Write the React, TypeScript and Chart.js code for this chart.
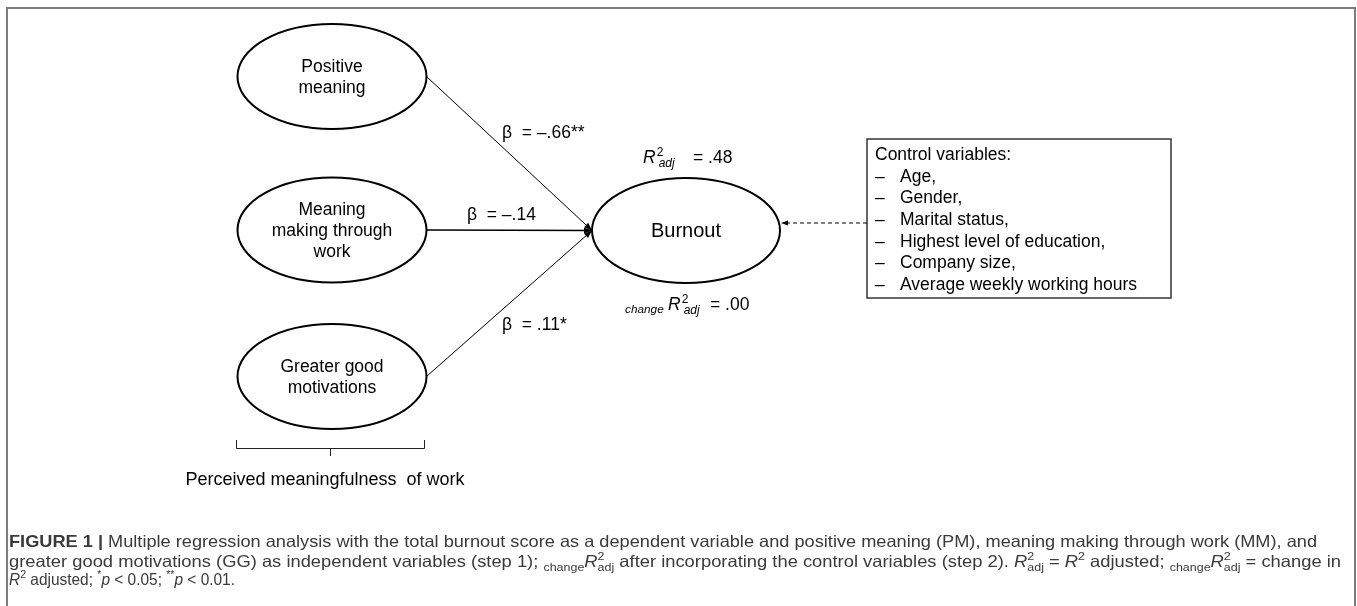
import { useEffect, useRef } from "react";
import { Chart, registerables } from "chart.js";

Chart.register(...registerables);

// ---------- data ----------
const predictorLabels: string[][] = [
  ["Positive", "meaning"],
  ["Meaning", "making through", "work"],
  ["Greater good", "motivations"],
];
const betaValues: number[] = [-0.66, -0.14, 0.11];
const betaStars: string[] = ["**", "", "*"];
const outcomeLabel = "Burnout";
const r2Adj = 0.48;
const changeR2Adj = 0.0;
const controlTitle = "Control variables:";
const controlItems: string[] = [
  "Age,",
  "Gender,",
  "Marital status,",
  "Highest level of education,",
  "Company size,",
  "Average weekly working hours",
];
const groupLabel = "Perceived meaningfulness  of work";

type Run = { t: string; b?: boolean; i?: boolean; s?: number; dy?: number; stack?: boolean };
const SUP = { s: 0.68, dy: -0.42 };
const SUB = { s: 0.68, dy: 0.22 };
const captionLines: Run[][] = [
  [
    { t: "FIGURE 1 |", b: true },
    { t: " Multiple regression analysis with the total burnout score as a dependent variable and positive meaning (PM), meaning making through work (MM), and" },
  ],
  [
    { t: "greater good motivations (GG) as independent variables (step 1); " },
    { t: "change", ...SUB },
    { t: "R", i: true },
    { t: "2", ...SUP, stack: true },
    { t: "adj", ...SUB },
    { t: " after incorporating the control variables (step 2). " },
    { t: "R", i: true },
    { t: "2", ...SUP, stack: true },
    { t: "adj", ...SUB },
    { t: " = " },
    { t: "R", i: true },
    { t: "2", ...SUP },
    { t: " adjusted; " },
    { t: "change", ...SUB },
    { t: "R", i: true },
    { t: "2", ...SUP, stack: true },
    { t: "adj", ...SUB },
    { t: " = change in" },
  ],
  [
    { t: "R", i: true },
    { t: "2", ...SUP },
    { t: " adjusted; " },
    { t: "*", ...SUP },
    { t: "p", i: true },
    { t: " < 0.05; " },
    { t: "**", ...SUP },
    { t: "p", i: true },
    { t: " < 0.01." },
  ],
];

// ---------- layout (in scale units) ----------
const W = 1357;
const H = 606;
const nodeX = [332, 332, 332];
const nodeY = [76.5, 230, 376.5];
const nodeRX = 94.5;
const nodeRY = 52.5;
const outX = 686;
const outY = 230.5;
const outRX = 94;
const outRY = 52.5;
const betaPos = [
  { x: 502, y: 133 },
  { x: 467, y: 215 },
  { x: 502, y: 325 },
];
const box = { x1: 867, y1: 139, x2: 1171, y2: 298 };

const FONT = '"Liberation Sans", Arial, Helvetica, sans-serif';
const fnt = (size: number, italic = false, bold = false) =>
  `${italic ? "italic" : "normal"} ${bold ? "bold" : "normal"} ${size}px ${FONT}`;

const fmt = (v: number) => (v < 0 ? "\u2013" : "") + Math.abs(v).toFixed(2).replace(/^0/, "");

function runsWidth(ctx: CanvasRenderingContext2D, runs: Run[], size: number) {
  let w = 0;
  let pending = 0;
  for (const r of runs) {
    ctx.font = fnt(size * (r.s ?? 1), !!r.i, !!r.b);
    const rw = ctx.measureText(r.t).width;
    if (r.stack) {
      pending = Math.max(pending, rw);
    } else {
      w += Math.max(pending, rw);
      pending = 0;
    }
  }
  return w + pending;
}

function drawRuns(ctx: CanvasRenderingContext2D, runs: Run[], x: number, base: number, size: number, sx: number) {
  ctx.save();
  ctx.translate(x, base);
  ctx.scale(sx, 1);
  ctx.textBaseline = "alphabetic";
  ctx.textAlign = "left";
  let cx = 0;
  let pending = 0;
  for (const r of runs) {
    ctx.font = fnt(size * (r.s ?? 1), !!r.i, !!r.b);
    const rw = ctx.measureText(r.t).width;
    ctx.fillText(r.t, cx, (r.dy ?? 0) * size);
    if (r.stack) {
      pending = Math.max(pending, rw);
    } else {
      cx += Math.max(pending, rw);
      pending = 0;
    }
  }
  ctx.restore();
}

function arrowHead(ctx: CanvasRenderingContext2D, fx: number, fy: number, tx: number, ty: number, len: number, half: number) {
  const a = Math.atan2(ty - fy, tx - fx);
  ctx.beginPath();
  ctx.moveTo(tx, ty);
  ctx.lineTo(tx - len * Math.cos(a) + half * Math.sin(a), ty - len * Math.sin(a) - half * Math.cos(a));
  ctx.lineTo(tx - len * Math.cos(a) - half * Math.sin(a), ty - len * Math.sin(a) + half * Math.cos(a));
  ctx.closePath();
  ctx.fill();
}

const diagramPlugin = {
  id: "diagram",
  beforeDraw(chart: any) {
    const ctx: CanvasRenderingContext2D = chart.ctx;
    ctx.save();
    ctx.fillStyle = "#ffffff";
    ctx.fillRect(0, 0, chart.width, chart.height);
    ctx.restore();
  },
  afterDraw(chart: any) {
    const ctx: CanvasRenderingContext2D = chart.ctx;
    const xs = chart.scales.x;
    const ys = chart.scales.y;
    const X = (v: number) => xs.getPixelForValue(v);
    const Y = (v: number) => ys.getPixelForValue(v);
    ctx.save();

    // outer frame
    ctx.strokeStyle = "#7d7d7d";
    ctx.lineWidth = 2;
    ctx.strokeRect(X(7), Y(8), X(1355) - X(7), Y(720) - Y(8));

    ctx.strokeStyle = "#000";
    ctx.fillStyle = "#000";

    // predictor ellipses
    const rx = X(nodeRX) - X(0);
    const ry = Y(nodeRY) - Y(0);
    for (let i = 0; i < predictorLabels.length; i++) {
      const cx = X(nodeX[i]);
      const cy = Y(nodeY[i]);
      ctx.lineWidth = 2;
      ctx.beginPath();
      ctx.ellipse(cx, cy, rx, ry, 0, 0, Math.PI * 2);
      ctx.stroke();
      const lines = predictorLabels[i];
      ctx.font = fnt(17.5);
      ctx.textAlign = "center";
      ctx.textBaseline = "middle";
      const lh = 21;
      lines.forEach((t, k) => {
        ctx.fillText(t, cx, cy + (k - (lines.length - 1) / 2) * lh + 1);
      });
    }

    // outcome ellipse
    const ox = X(outX);
    const oy = Y(outY);
    const orx = X(outRX) - X(0);
    const ory = Y(outRY) - Y(0);
    ctx.lineWidth = 2;
    ctx.beginPath();
    ctx.ellipse(ox, oy, orx, ory, 0, 0, Math.PI * 2);
    ctx.stroke();
    ctx.font = fnt(20);
    ctx.textAlign = "center";
    ctx.textBaseline = "middle";
    ctx.fillText(outcomeLabel, ox, oy + 1);

    // paths with betas
    const tipX = ox - orx;
    const tipY = oy;
    for (let i = 0; i < betaValues.length; i++) {
      const sx = X(nodeX[i]) + rx;
      const sy = Y(nodeY[i]);
      ctx.lineWidth = i === 1 ? 1.4 : 1;
      ctx.beginPath();
      ctx.moveTo(sx, sy);
      ctx.lineTo(tipX, tipY);
      ctx.stroke();
      arrowHead(ctx, sx, sy, tipX, tipY, 8, 3);
      ctx.font = fnt(17.5);
      ctx.textAlign = "left";
      ctx.textBaseline = "middle";
      ctx.fillText(`\u03B2  = ${fmt(betaValues[i])}${betaStars[i]}`, X(betaPos[i].x), Y(betaPos[i].y));
    }

    // R2 adj label
    ctx.textBaseline = "alphabetic";
    ctx.textAlign = "left";
    const drawR2 = (x: number, base: number) => {
      ctx.font = fnt(17.5, true);
      ctx.fillText("R", x, base);
      const rw = ctx.measureText("R").width;
      ctx.font = fnt(12);
      ctx.fillText("2", x + rw + 1, base - 7);
      ctx.font = fnt(12, true);
      ctx.fillText("adj", x + rw + 3, base + 4);
    };
    drawR2(X(643), Y(163));
    ctx.font = fnt(17.5);
    ctx.fillText(`= ${fmt(r2Adj)}`, X(693), Y(163));

    // change R2 label
    ctx.font = fnt(11.8, true);
    ctx.fillText("change", X(625), Y(312.5));
    drawR2(X(668), Y(310));
    ctx.font = fnt(17.5);
    ctx.fillText(`= ${fmt(changeR2Adj)}`, X(710), Y(310));

    // control box
    ctx.lineWidth = 1.5;
    ctx.strokeStyle = "#333";
    ctx.strokeRect(X(box.x1), Y(box.y1), X(box.x2) - X(box.x1), Y(box.y2) - Y(box.y1));
    ctx.font = fnt(17.5);
    ctx.textBaseline = "middle";
    ctx.fillText(controlTitle, X(875), Y(155));
    controlItems.forEach((t, k) => {
      const yy = Y(155 + 21.7 * (k + 1));
      ctx.fillText("\u2013", X(875), yy);
      ctx.fillText(t, X(900), yy);
    });

    // dashed arrow from box to outcome
    ctx.strokeStyle = "#000";
    ctx.lineWidth = 1.2;
    ctx.setLineDash([4, 3]);
    const ay = Y(223);
    const ax2 = X(781);
    ctx.beginPath();
    ctx.moveTo(X(box.x1), ay);
    ctx.lineTo(ax2 + 5, ay);
    ctx.stroke();
    ctx.setLineDash([]);
    arrowHead(ctx, X(box.x1), ay, ax2, ay, 7, 2.5);

    // bracket
    ctx.strokeStyle = "#222";
    ctx.lineWidth = 1;
    const bl = X(236.5), br = X(424.5), by = Y(448.5), bm = X(330.5);
    ctx.beginPath();
    ctx.moveTo(bl, Y(440));
    ctx.lineTo(bl, by);
    ctx.lineTo(br, by);
    ctx.lineTo(br, Y(440));
    ctx.moveTo(bm, by);
    ctx.lineTo(bm, Y(456));
    ctx.stroke();
    ctx.font = fnt(18);
    ctx.textAlign = "center";
    ctx.textBaseline = "middle";
    ctx.fillStyle = "#000";
    ctx.fillText(groupLabel, X(325), Y(480));

    // caption
    const capSize = 16.5;
    const capX = X(9);
    const capEnds = [1317, 1341, 235];
    const capBase = [547, 567, 585];
    ctx.fillStyle = "#3a3a3a";
    captionLines.forEach((runs, k) => {
      const w = runsWidth(ctx, runs, capSize);
      const sx = (X(capEnds[k]) - capX) / w;
      drawRuns(ctx, runs, capX, Y(capBase[k]), capSize, sx);
    });

    ctx.restore();
  },
};

export default function App() {
  const ref = useRef<HTMLCanvasElement>(null);
  useEffect(() => {
    const nodes = [
      ...nodeX.map((x, i) => ({ x, y: nodeY[i] })),
      { x: outX, y: outY },
    ];
    const chart = new Chart(ref.current as HTMLCanvasElement, {
      type: "scatter",
      data: {
        datasets: [{ data: nodes, pointRadius: 0, pointHoverRadius: 0 }],
      },
      options: {
        animation: false,
        responsive: false,
        events: [],
        layout: { padding: 0 },
        plugins: { legend: { display: false }, tooltip: { enabled: false } },
        scales: {
          x: { type: "linear", min: 0, max: W, display: false },
          y: { type: "linear", min: 0, max: H, reverse: true, display: false },
        },
      },
      plugins: [diagramPlugin],
    });
    return () => chart.destroy();
  }, []);
  return (
    <canvas
      ref={ref}
      width={W}
      height={H}
      style={{ position: "fixed", left: 0, top: 0, width: W, height: H, display: "block" }}
    />
  );
}
